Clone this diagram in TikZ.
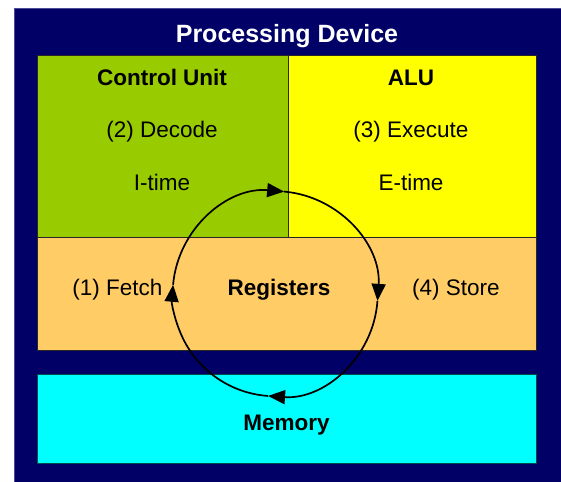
\documentclass[tikz,border=0pt]{standalone}
\usepackage{fontspec}
\setmainfont{Liberation Sans}
\usetikzlibrary{arrows.meta}
\definecolor{navybg}{HTML}{000066}
\definecolor{cugreen}{HTML}{99CC00}
\definecolor{aluyellow}{HTML}{FFFF00}
\definecolor{regorange}{HTML}{FFCC66}
\definecolor{memcyan}{HTML}{00FFFF}
\begin{document}
\begin{tikzpicture}[x=1pt,y=-1pt,
  box/.style={draw=black!85, line width=0.8pt, anchor=north west, inner sep=0, outer sep=0},
  lbl/.style={font=\fontsize{22.5}{27}\selectfont, inner sep=0, anchor=base},
  blbl/.style={font=\fontsize{22.5}{27}\selectfont\bfseries, inner sep=0, anchor=base},
  cyc/.style={line width=1.7pt, -{Triangle[length=17pt,width=14pt]}}]
\useasboundingbox (0,0) rectangle (561,481);
\node[draw=navybg!70!white, line width=0.8pt, fill=navybg, anchor=north west, inner sep=0, minimum width=548pt, minimum height=473pt] (dev) at (13.5,8.5) {};
\node[font=\fontsize{25}{30}\selectfont\bfseries, text=white, inner sep=0, anchor=base] (devt) at (287,42.7) {Processing Device};
\node[box, fill=cugreen, minimum width=251pt, minimum height=182pt] (cu) at (37,55) {};
\node[box, fill=aluyellow, minimum width=248.5pt, minimum height=182pt] (alu) at (288,55) {};
\node[box, fill=regorange, minimum width=499.5pt, minimum height=113pt] (reg) at (37,237) {};
\node[box, fill=memcyan, draw=teal!60!black, minimum width=499.5pt, minimum height=89pt] (mem) at (37,374) {};
\node[blbl] (cut) at (162,86) {Control Unit};
\node[lbl] (dec) at (162,138) {(2) Decode};
\node[lbl] (itm) at (162,190) {I-time};
\node[blbl] (alut) at (411,86) {ALU};
\node[lbl] (exe) at (411,138) {(3) Execute};
\node[lbl] (etm) at (411,190) {E-time};
\node[lbl] (fet) at (117.5,295.5) {(1) Fetch};
\node[blbl] (regt) at (279,295.5) {Registers};
\node[lbl] (sto) at (456,295.5) {(4) Store};
\node[blbl] (memt) at (286.5,430.5) {Memory};
\coordinate (c) at (275.2,293.7);
\draw[cyc] (c) ++(-175:102.5) arc[start angle=-175, end angle=-85, radius=102.5];
\draw[cyc] (c) ++(-85:102.5) arc[start angle=-85, end angle=4, radius=102.5];
\draw[cyc] (c) ++(4:102.5) arc[start angle=4, end angle=94, radius=102.5];
\draw[cyc] (c) ++(94:102.5) arc[start angle=94, end angle=185, radius=102.5];
\end{tikzpicture}
\end{document}
